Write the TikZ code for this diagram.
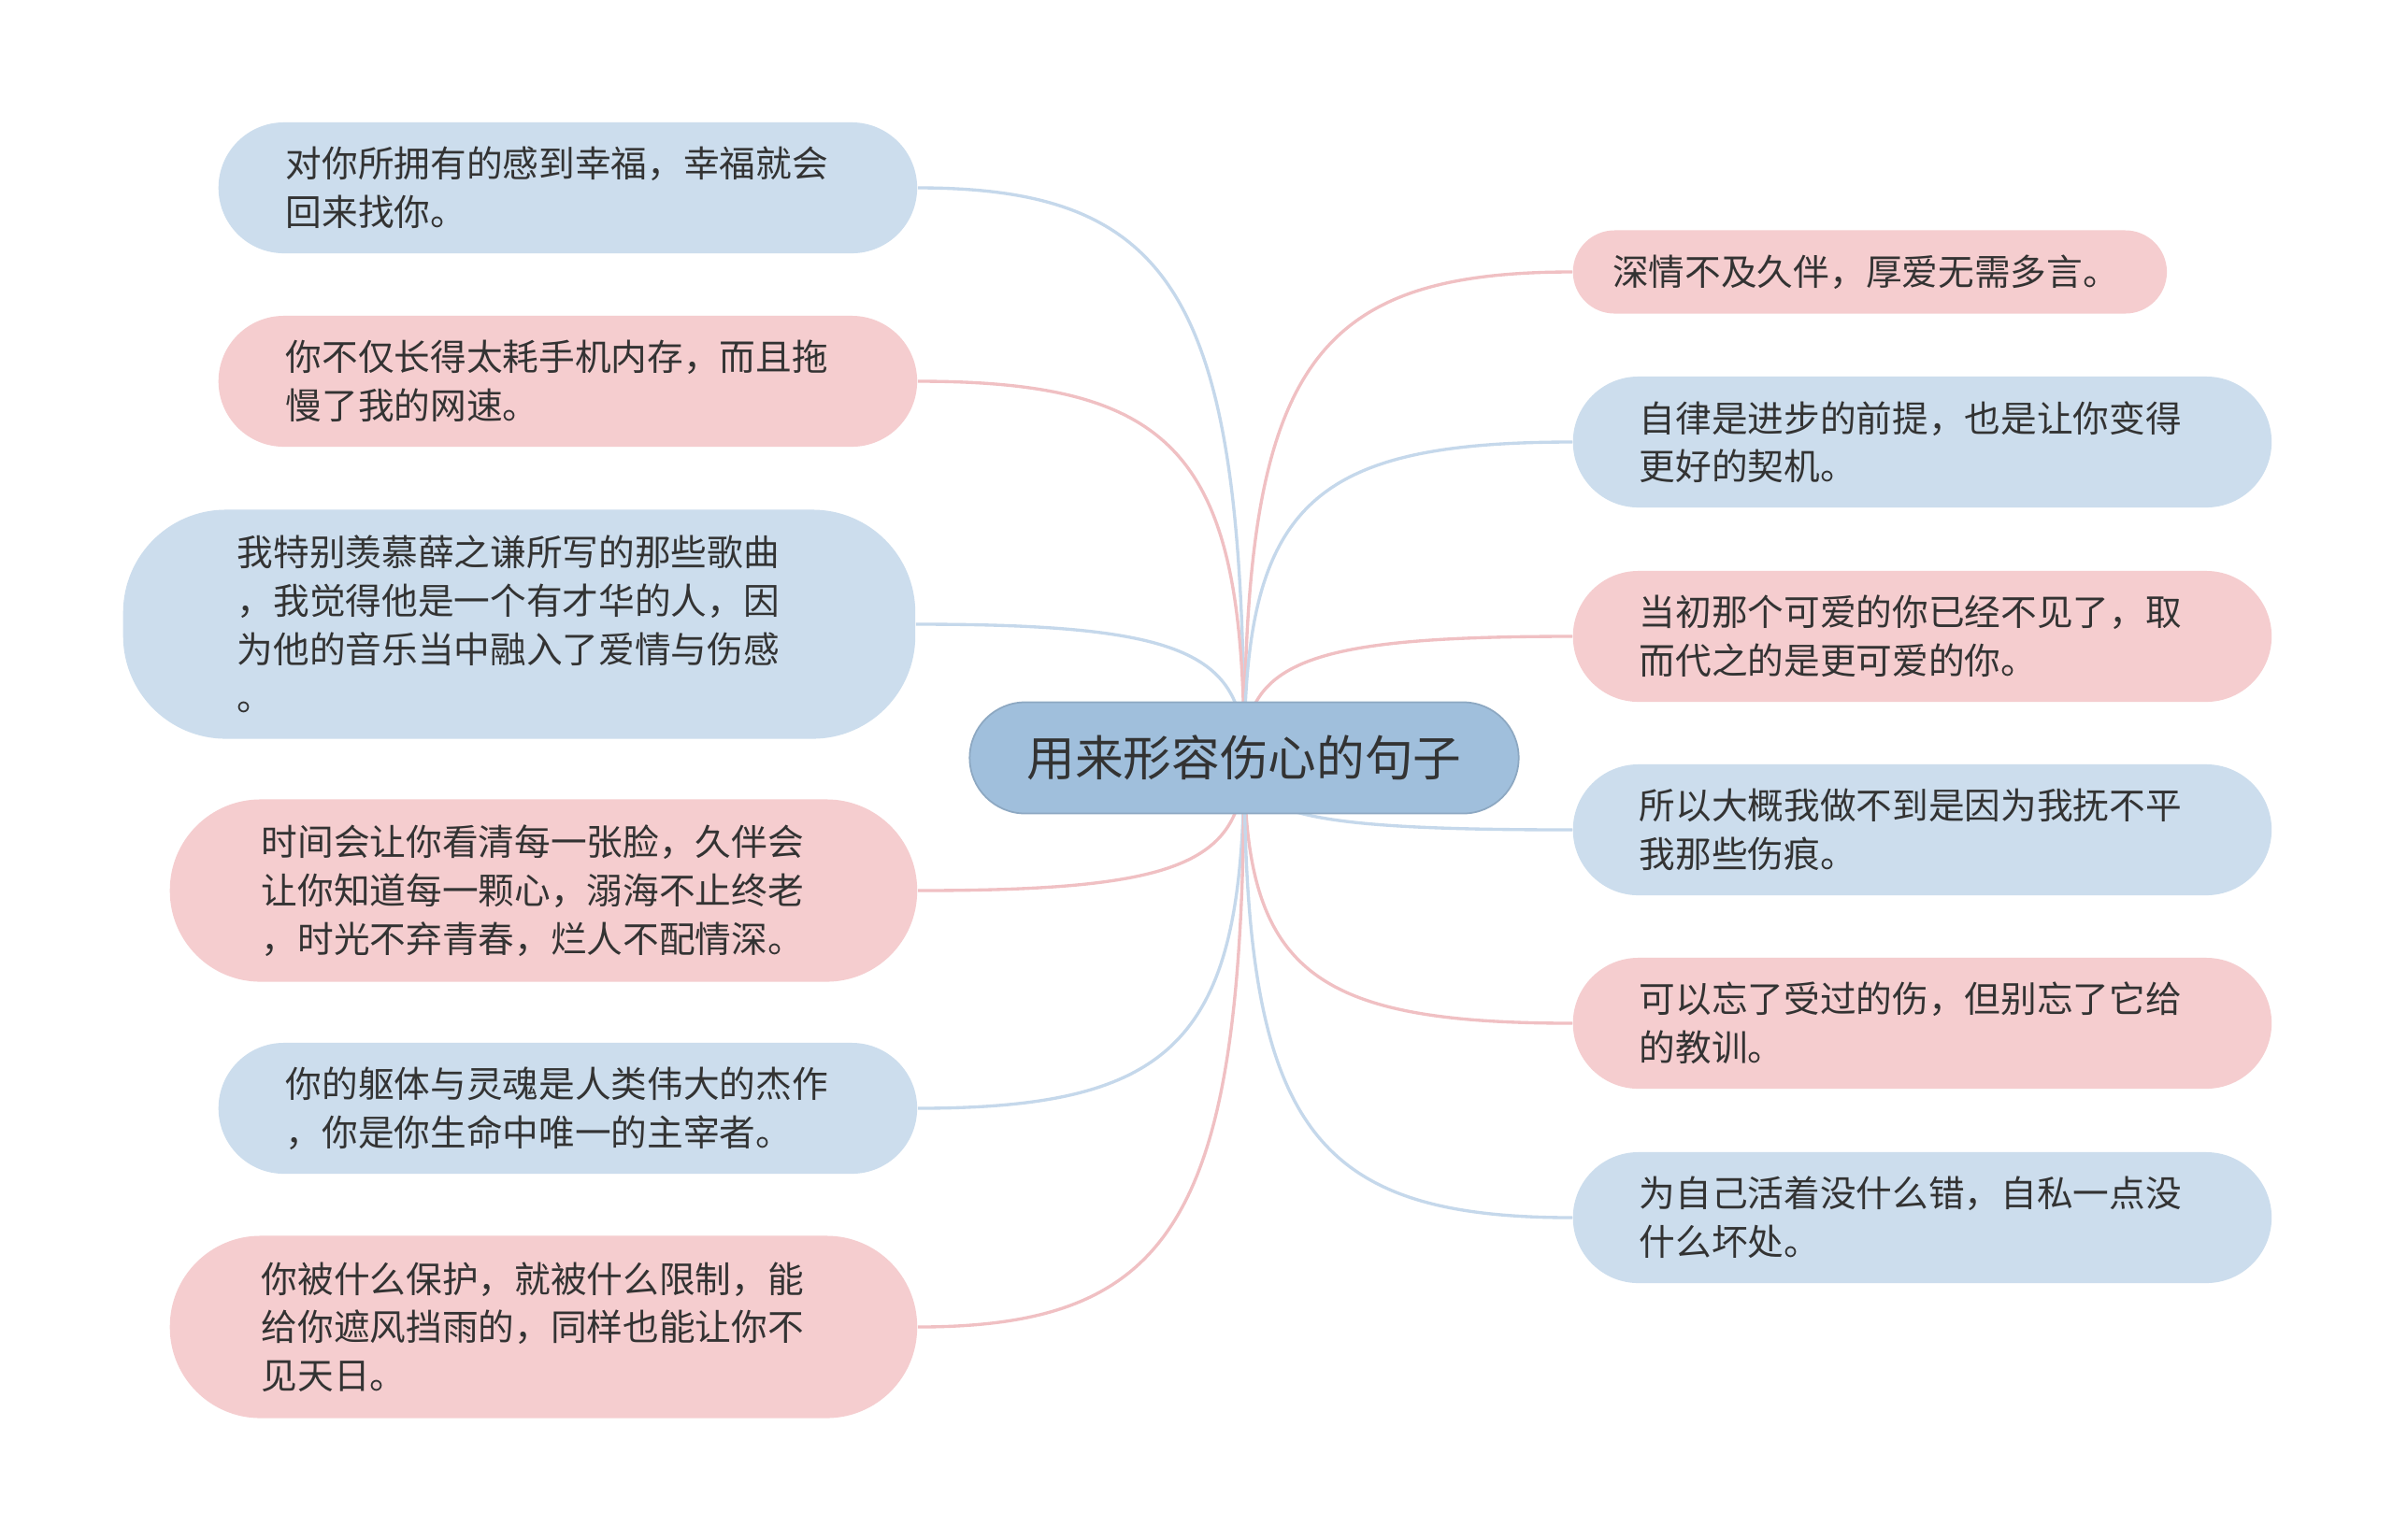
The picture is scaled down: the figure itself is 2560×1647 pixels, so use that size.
\documentclass[tikz,border=0pt]{standalone}
\usepackage{fontspec}
\setmainfont{Noto Sans CJK SC}
\usepackage{xcolor}
\usetikzlibrary{calc,backgrounds}
\definecolor{rootblue}{RGB}{160,191,220}
\definecolor{leafblue}{RGB}{204,221,237}
\definecolor{leafpink}{RGB}{245,205,207}
\definecolor{lineblue}{RGB}{197,216,235}
\definecolor{linepink}{RGB}{240,192,195}
\definecolor{inkgray}{RGB}{51,51,51}

\begin{document}
\begin{tikzpicture}[x=0.01cm, y=-0.01cm,
  leaf/.style={anchor=west, align=left, text width=6.03cm, inner xsep=0.72cm, inner ysep=0pt,
    minimum height=1.4cm, rounded corners=0.7cm, text=inkgray,
    font=\fontsize{11pt}{14.7pt}\selectfont},
  blueleaf/.style={leaf, fill=leafblue},
  pinkleaf/.style={leaf, fill=leafpink},
  link/.style={line width=0.95pt}]
\useasboundingbox (0,0) rectangle (2560,1647);

\node[fill=rootblue, draw=rootblue!88!black, line width=0.5pt, rounded corners=0.595cm,
  minimum width=5.87cm, minimum height=1.19cm, text=inkgray,
  font=\fontsize{14.7pt}{16pt}\selectfont] (root) at (1331,811) {用来形容伤心的句子};

\node[blueleaf] (l1) at (233,201) {对你所拥有的感到幸福，幸福就会\\回来找你。};
\node[pinkleaf] (l2) at (233,408) {你不仅长得太耗手机内存，而且拖\\慢了我的网速。};
\node[blueleaf, inner xsep=1.22cm, minimum height=2.45cm, rounded corners=1.1cm] (l3) at (131,668)
  {我特别羡慕薛之谦所写的那些歌曲\\，我觉得他是一个有才华的人，因\\为他的音乐当中融入了爱情与伤感\\。};
\node[pinkleaf, inner xsep=0.98cm, minimum height=1.95cm, rounded corners=0.97cm] (l4) at (181,953)
  {时间会让你看清每一张脸，久伴会\\让你知道每一颗心，溺海不止终老\\，时光不弃青春，烂人不配情深。};
\node[blueleaf] (l5) at (233,1186) {你的躯体与灵魂是人类伟大的杰作\\，你是你生命中唯一的主宰者。};
\node[pinkleaf, inner xsep=0.98cm, minimum height=1.95cm, rounded corners=0.97cm] (l6) at (181,1420)
  {你被什么保护，就被什么限制，能\\给你遮风挡雨的，同样也能让你不\\见天日。};

\node[pinkleaf, text width=5.5cm, inner xsep=0.425cm, minimum height=0.89cm, rounded corners=0.445cm] (r1) at (1682,291)
  {深情不及久伴，厚爱无需多言。};
\node[blueleaf, inner xsep=0.71cm, text width=6.05cm] (r2) at (1682,473) {自律是进步的前提，也是让你变得\\更好的契机。};
\node[pinkleaf, inner xsep=0.71cm, text width=6.05cm] (r3) at (1682,681) {当初那个可爱的你已经不见了，取\\而代之的是更可爱的你。};
\node[blueleaf, inner xsep=0.71cm, text width=6.05cm] (r4) at (1682,888) {所以大概我做不到是因为我抚不平\\我那些伤痕。};
\node[pinkleaf, inner xsep=0.71cm, text width=6.05cm] (r5) at (1682,1095) {可以忘了受过的伤，但别忘了它给\\的教训。};
\node[blueleaf, inner xsep=0.71cm, text width=6.05cm] (r6) at (1682,1303) {为自己活着没什么错，自私一点没\\什么坏处。};

\begin{scope}[on background layer]
\fill[white] (0,0) rectangle (2560,1647);
\foreach \leaf/\col/\side in {l1/lineblue/east, l2/linepink/east, l3/lineblue/east,
    l4/linepink/east, l5/lineblue/east, l6/linepink/east,
    r1/linepink/west, r2/lineblue/west, r3/linepink/west,
    r4/lineblue/west, r5/linepink/west, r6/lineblue/west}
  \draw[link, \col] (root.center)
    .. controls ($(root.center)!0.8!(root.center |- \leaf.\side)$)
    and ($(\leaf.\side)!0.8!(root.center |- \leaf.\side)$) .. (\leaf.\side);
\end{scope}
\end{tikzpicture}
\end{document}
